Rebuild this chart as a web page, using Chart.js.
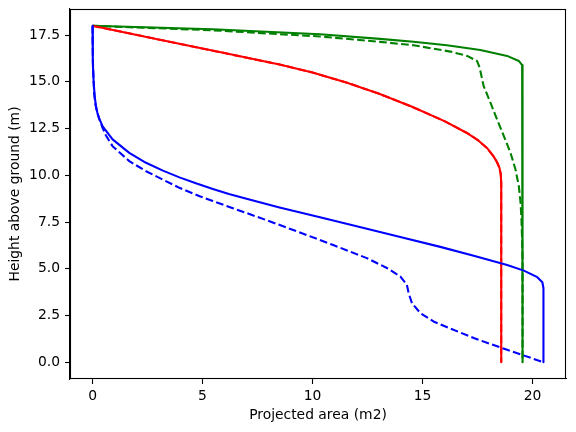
<!DOCTYPE html>
<html><head><meta charset="utf-8">
<script src="https://cdn.jsdelivr.net/npm/chart.js@4"></script>
<style>html,body{margin:0;padding:0;background:#fff}</style>
</head><body>
<canvas id="c" width="576" height="432" style="width:576px;height:432px;display:block"></canvas>
<script>
const xTicks = [0, 5, 10, 15, 20];
const yTicks = [0, 2.5, 5, 7.5, 10, 12.5, 15, 17.5];

const blueSolidX = [0, 0.005, 0.02, 0.05, 0.1, 0.15, 0.22, 0.3, 0.46, 0.91, 1.67, 2.43, 3.2, 3.95, 4.7, 5.47, 6.2, 7.0, 8.5, 10.34, 12.47, 13.99, 15.81, 17.33, 18.85, 19.61, 20.22, 20.45, 20.5, 20.5];
const blueSolidY = [18, 17, 16, 15, 14.2, 13.75, 13.35, 13.05, 12.62, 11.92, 11.2, 10.67, 10.25, 9.89, 9.57, 9.27, 9.0, 8.74, 8.28, 7.75, 7.14, 6.70, 6.17, 5.7, 5.2, 4.9, 4.55, 4.28, 3.97, 0];

const blueDashedX = [0, 0.005, 0.02, 0.05, 0.08, 0.13, 0.2, 0.31, 0.45, 0.61, 0.91, 1.67, 2.43, 3.95, 4.87, 5.47, 6.38, 7.91, 9.43, 10.94, 12.47, 13.38, 13.99, 14.29, 14.37, 14.52, 14.9, 15.5, 16.27, 17.33, 18.85, 20.5];
const blueDashedY = [18, 17, 16, 15, 14.3, 13.8, 13.4, 13.0, 12.55, 12.13, 11.56, 10.76, 10.22, 9.33, 8.88, 8.62, 8.24, 7.6, 6.94, 6.27, 5.57, 5.04, 4.59, 4.14, 3.7, 3.16, 2.63, 2.18, 1.8, 1.29, 0.66, 0];

const redSolidX = [0, 3, 6, 8.5, 10, 11.5, 13, 14.5, 16, 17, 17.5, 17.94, 18.24, 18.39, 18.5, 18.56, 18.58, 18.58];
const redSolidY = [18, 17.27, 16.54, 15.93, 15.5, 14.98, 14.38, 13.68, 12.9, 12.28, 11.9, 11.45, 11.0, 10.7, 10.4, 10.05, 9.6, 0];

const redDashedX = [0, 3, 6, 8.5, 10, 11.5, 13, 14.5, 16, 17, 17.5, 17.94, 18.24, 18.39, 18.5, 18.56, 18.58, 18.58];
const redDashedY = [18, 17.27, 16.54, 15.93, 15.5, 14.98, 14.38, 13.68, 12.9, 12.28, 11.9, 11.45, 11.0, 10.7, 10.4, 10.05, 9.6, 0];

const greenSolidX = [0, 5.47, 10.34, 13.07, 14.59, 16.11, 17.63, 18.85, 19.38, 19.53, 19.55, 19.55];
const greenSolidY = [18, 17.82, 17.55, 17.3, 17.15, 16.96, 16.71, 16.39, 16.12, 15.9, 15.5, 0];

const greenDashedX = [0, 5.47, 10.34, 13.07, 14.59, 16.27, 17.03, 17.48, 17.6, 17.78, 18.09, 18.39, 18.7, 19.0, 19.23, 19.38, 19.46, 19.5, 19.53, 19.55, 19.55];
const greenDashedY = [18, 17.76, 17.43, 17.14, 16.96, 16.62, 16.39, 16.12, 15.76, 14.78, 13.89, 12.99, 12.1, 11.21, 10.31, 9.42, 8.53, 7.63, 6.56, 5.5, 0];

function pts(xs, ys) { return xs.map((x, i) => ({ x: x, y: ys[i] })); }

const LW = 1.5 * 100 / 72;
const DASH = [3.7 * 1.5 * 100 / 72, 1.6 * 1.5 * 100 / 72];
const FONT = { family: 'DejaVu Sans', size: 13.89 };

function ds(xs, ys, color, dashed) {
  return {
    data: pts(xs, ys), borderColor: color, backgroundColor: color,
    borderWidth: LW, borderDash: dashed ? DASH : [], showLine: true,
    pointRadius: 0, tension: 0, fill: false, order: dashed ? 2 : 1,
    borderCapStyle: 'butt', borderJoinStyle: 'round'
  };
}

const framePlugin = {
  id: 'frame',
  afterDatasetsDraw(chart) {
    const a = chart.chartArea, ctx = chart.ctx;
    ctx.save();
    ctx.strokeStyle = '#000';
    ctx.lineWidth = 1.1;
    ctx.strokeRect(Math.round(a.left) + 0.5, Math.round(a.top) + 0.5, Math.round(a.right - a.left) - 1, Math.round(a.bottom - a.top) - 1);
    ctx.restore();
  }
};

Chart.defaults.color = '#000';
Chart.defaults.font.family = 'DejaVu Sans';

new Chart(document.getElementById('c'), {
  type: 'scatter',
  data: {
    datasets: [
      ds(blueSolidX, blueSolidY, '#0000ff', false),
      ds(blueDashedX, blueDashedY, '#0000ff', true),
      ds(redSolidX, redSolidY, '#ff0000', false),
      ds(redDashedX, redDashedY, '#ff0000', true),
      ds(greenSolidX, greenSolidY, '#008000', false),
      ds(greenDashedX, greenDashedY, '#008000', true)
    ]
  },
  options: {
    responsive: false, animation: false,
    layout: { padding: { top: 9, right: 10, left: 0, bottom: 0 } },
    plugins: { legend: { display: false }, tooltip: { enabled: false } },
    scales: {
      x: {
        type: 'linear', min: -1.025, max: 21.525,
        afterBuildTicks: s => { s.ticks = xTicks.map(v => ({ value: v })); },
        afterFit: s => { s.height = 53; s.paddingLeft = 0; s.paddingRight = 0; },
        grid: { display: true, drawOnChartArea: false, drawTicks: true, tickLength: 5, color: '#000', tickWidth: 1.1 },
        border: { display: true, color: '#000', width: 1.1 },
        ticks: { font: FONT, color: '#000', padding: 4, maxRotation: 0, callback: v => String(v) },
        title: { display: true, text: 'Projected area (m2)', font: FONT, color: '#000', padding: { top: 0, bottom: 8 } }
      },
      y: {
        type: 'linear', min: -0.9, max: 18.9,
        afterBuildTicks: s => { s.ticks = yTicks.map(v => ({ value: v })); },
        afterFit: s => { s.width = 70; s.paddingTop = 0; s.paddingBottom = 0; },
        grid: { display: true, drawOnChartArea: false, drawTicks: true, tickLength: 5, color: '#000', tickWidth: 1.1 },
        border: { display: true, color: '#000', width: 1.1 },
        ticks: { font: FONT, color: '#000', padding: 5, callback: v => Number(v).toFixed(1) },
        title: { display: true, text: 'Height above ground (m)', font: FONT, color: '#000', padding: { top: 7, bottom: 0 } }
      }
    }
  },
  plugins: [framePlugin]
});
</script>
</body></html>
